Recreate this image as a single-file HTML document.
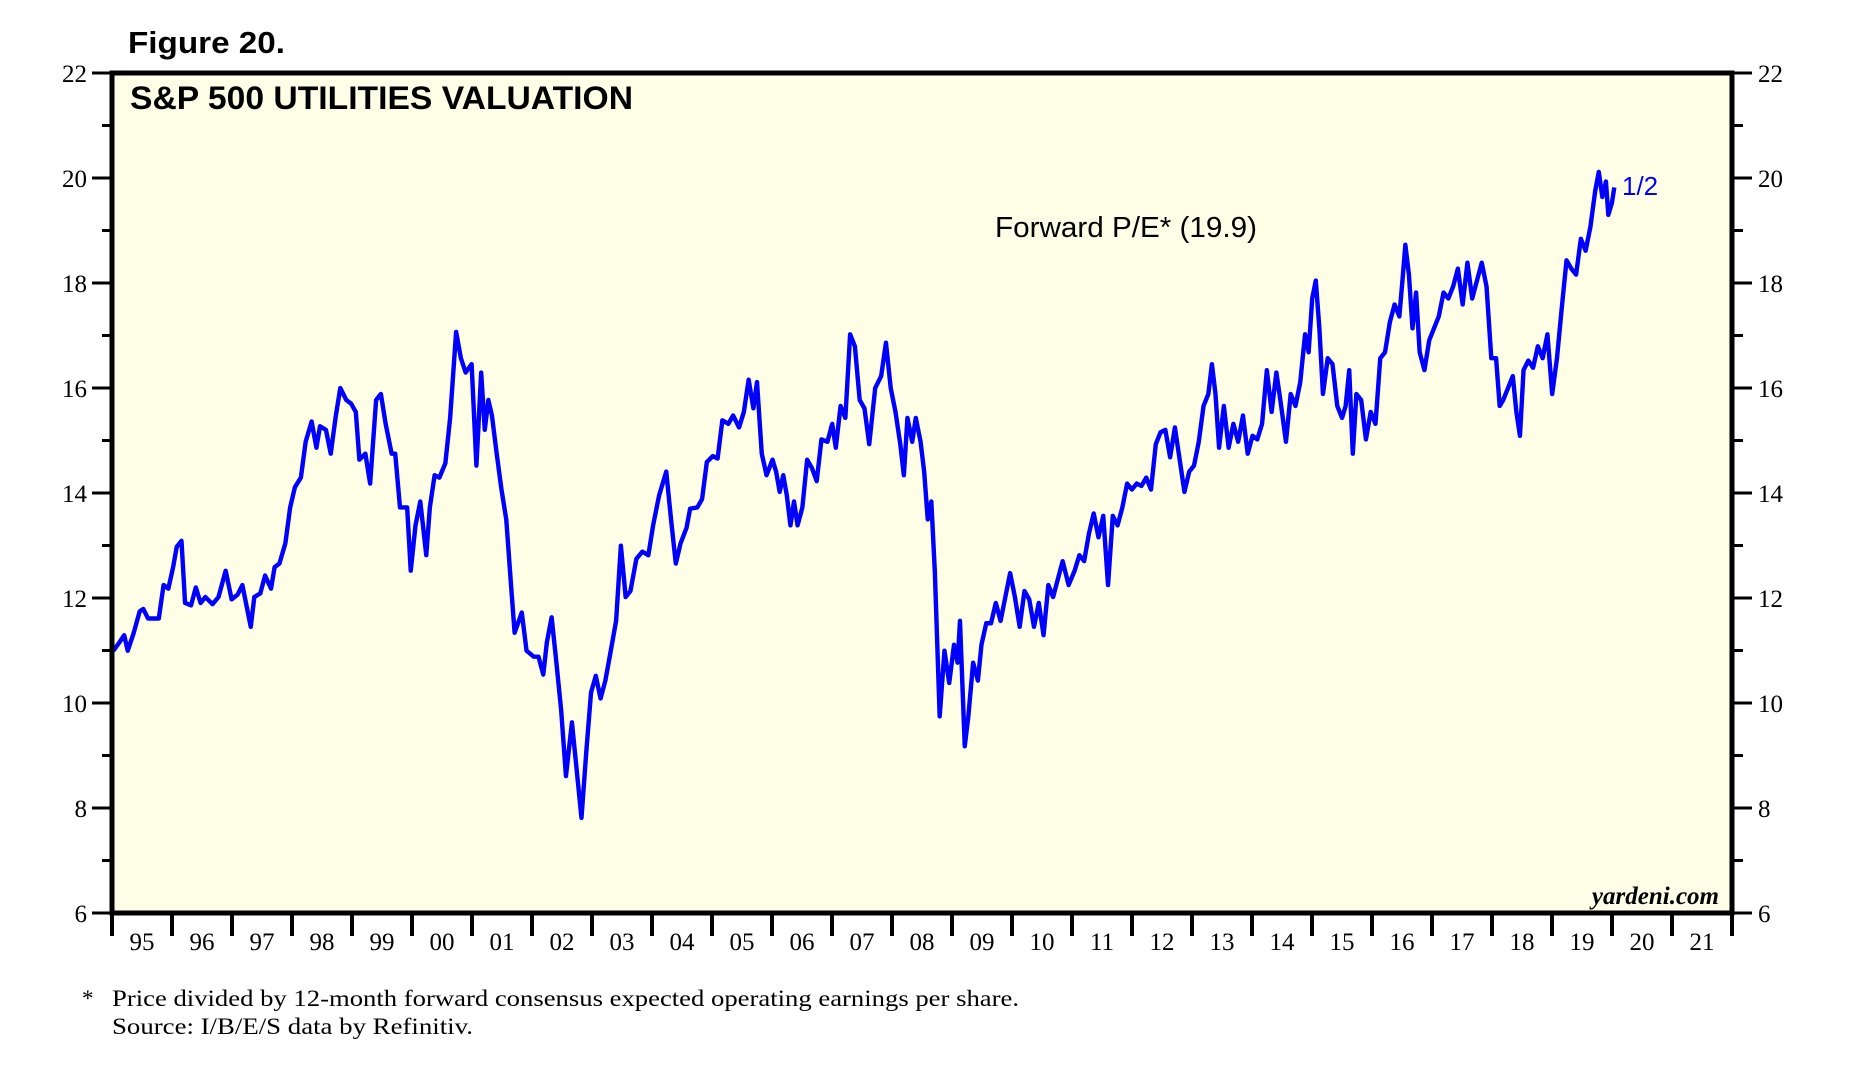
<!DOCTYPE html>
<html><head><meta charset="utf-8"><style>html,body{margin:0;padding:0;background:#fff}svg{display:block}</style></head>
<body>
<svg width="1871" height="1074" viewBox="0 0 1871 1074" xmlns="http://www.w3.org/2000/svg">
<rect x="0" y="0" width="1871" height="1074" fill="#fff"/>
<rect x="112" y="73" width="1620" height="840" fill="#fefee6"/>
<text x="128" y="53" font-family="Liberation Sans, sans-serif" font-weight="bold" font-size="31" textLength="157" lengthAdjust="spacingAndGlyphs">Figure 20.</text>
<text x="130" y="109" font-family="Liberation Sans, sans-serif" font-weight="bold" font-size="32" textLength="503" lengthAdjust="spacingAndGlyphs">S&amp;P 500 UTILITIES VALUATION</text>
<text x="995" y="237" font-family="Liberation Sans, sans-serif" font-size="29" textLength="262" lengthAdjust="spacingAndGlyphs">Forward P/E* (19.9)</text>
<text x="1622" y="195" font-family="Liberation Sans, sans-serif" font-size="26" fill="#0000ff">1/2</text>
<text x="1719" y="904" text-anchor="end" font-family="Liberation Serif, serif" font-weight="bold" font-style="italic" font-size="25">yardeni.com</text>
<g font-family="Liberation Serif, serif" font-size="25">
<g stroke="#000" stroke-width="3">
<line x1="92" y1="73" x2="112" y2="73"/><line x1="92" y1="178" x2="112" y2="178"/><line x1="92" y1="283" x2="112" y2="283"/><line x1="92" y1="388" x2="112" y2="388"/><line x1="92" y1="493" x2="112" y2="493"/><line x1="92" y1="598" x2="112" y2="598"/><line x1="92" y1="703" x2="112" y2="703"/><line x1="92" y1="808" x2="112" y2="808"/><line x1="92" y1="913" x2="112" y2="913"/>
<line x1="102" y1="125.5" x2="112" y2="125.5"/><line x1="102" y1="230.5" x2="112" y2="230.5"/><line x1="102" y1="335.5" x2="112" y2="335.5"/><line x1="102" y1="440.5" x2="112" y2="440.5"/><line x1="102" y1="545.5" x2="112" y2="545.5"/><line x1="102" y1="650.5" x2="112" y2="650.5"/><line x1="102" y1="755.5" x2="112" y2="755.5"/><line x1="102" y1="860.5" x2="112" y2="860.5"/>
<line x1="1732" y1="73" x2="1752" y2="73"/><line x1="1732" y1="178" x2="1752" y2="178"/><line x1="1732" y1="283" x2="1752" y2="283"/><line x1="1732" y1="388" x2="1752" y2="388"/><line x1="1732" y1="493" x2="1752" y2="493"/><line x1="1732" y1="598" x2="1752" y2="598"/><line x1="1732" y1="703" x2="1752" y2="703"/><line x1="1732" y1="808" x2="1752" y2="808"/><line x1="1732" y1="913" x2="1752" y2="913"/>
<line x1="1732" y1="125.5" x2="1743" y2="125.5"/><line x1="1732" y1="230.5" x2="1743" y2="230.5"/><line x1="1732" y1="335.5" x2="1743" y2="335.5"/><line x1="1732" y1="440.5" x2="1743" y2="440.5"/><line x1="1732" y1="545.5" x2="1743" y2="545.5"/><line x1="1732" y1="650.5" x2="1743" y2="650.5"/><line x1="1732" y1="755.5" x2="1743" y2="755.5"/><line x1="1732" y1="860.5" x2="1743" y2="860.5"/>
</g>
<g text-anchor="end">
<text x="87" y="82">22</text><text x="87" y="187">20</text><text x="87" y="292">18</text><text x="87" y="397">16</text><text x="87" y="502">14</text><text x="87" y="607">12</text><text x="87" y="712">10</text><text x="87" y="817">8</text><text x="87" y="922">6</text>
</g>
<g>
<text x="1758" y="82">22</text><text x="1758" y="187">20</text><text x="1758" y="292">18</text><text x="1758" y="397">16</text><text x="1758" y="502">14</text><text x="1758" y="607">12</text><text x="1758" y="712">10</text><text x="1758" y="817">8</text><text x="1758" y="922">6</text>
</g>
</g>
<g stroke="#000" stroke-width="4">
<line x1="112" y1="913" x2="112" y2="936"/><line x1="172" y1="913" x2="172" y2="936"/><line x1="232" y1="913" x2="232" y2="936"/><line x1="292" y1="913" x2="292" y2="936"/><line x1="352" y1="913" x2="352" y2="936"/><line x1="412" y1="913" x2="412" y2="936"/><line x1="472" y1="913" x2="472" y2="936"/><line x1="532" y1="913" x2="532" y2="936"/><line x1="592" y1="913" x2="592" y2="936"/><line x1="652" y1="913" x2="652" y2="936"/><line x1="712" y1="913" x2="712" y2="936"/><line x1="772" y1="913" x2="772" y2="936"/><line x1="832" y1="913" x2="832" y2="936"/><line x1="892" y1="913" x2="892" y2="936"/><line x1="952" y1="913" x2="952" y2="936"/><line x1="1012" y1="913" x2="1012" y2="936"/><line x1="1072" y1="913" x2="1072" y2="936"/><line x1="1132" y1="913" x2="1132" y2="936"/><line x1="1192" y1="913" x2="1192" y2="936"/><line x1="1252" y1="913" x2="1252" y2="936"/><line x1="1312" y1="913" x2="1312" y2="936"/><line x1="1372" y1="913" x2="1372" y2="936"/><line x1="1432" y1="913" x2="1432" y2="936"/><line x1="1492" y1="913" x2="1492" y2="936"/><line x1="1552" y1="913" x2="1552" y2="936"/><line x1="1612" y1="913" x2="1612" y2="936"/><line x1="1672" y1="913" x2="1672" y2="936"/><line x1="1732" y1="913" x2="1732" y2="936"/>
</g>
<g font-family="Liberation Serif, serif" font-size="25" text-anchor="middle">
<text x="142" y="950">95</text><text x="202" y="950">96</text><text x="262" y="950">97</text><text x="322" y="950">98</text><text x="382" y="950">99</text><text x="442" y="950">00</text><text x="502" y="950">01</text><text x="562" y="950">02</text><text x="622" y="950">03</text><text x="682" y="950">04</text><text x="742" y="950">05</text><text x="802" y="950">06</text><text x="862" y="950">07</text><text x="922" y="950">08</text><text x="982" y="950">09</text><text x="1042" y="950">10</text><text x="1102" y="950">11</text><text x="1162" y="950">12</text><text x="1222" y="950">13</text><text x="1282" y="950">14</text><text x="1342" y="950">15</text><text x="1402" y="950">16</text><text x="1462" y="950">17</text><text x="1522" y="950">18</text><text x="1582" y="950">19</text><text x="1642" y="950">20</text><text x="1702" y="950">21</text>
</g>
<g transform="scale(1.194)">
<polyline fill="none" stroke="#0000ff" stroke-width="3.7" stroke-linejoin="round" points="95,545 100,538 104,532 107,545 112,530 117,512 120,510 124,518 130,518 133,518 137,490 141,493 145,475 148,458 152,453 155,505 160,507 164,492 168,505 172,500 178,506 183,500 189,478 194,502 199,498 203,490 206,505 210,525 213,500 218,497 222,482 227,493 230,475 234,472 239,455 243,425 247,408 252,400 256,370 261,353 265,375 268,357 273,360 277,380 281,350 285,325 290,335 294,338 298,345 301,385 306,380 310,405 315,335 319,330 323,355 328,380 331,380 335,425 341,425 344,478 348,440 352,420 357,465 360,425 364,398 368,400 373,388 377,350 382,278 386,300 390,312 395,305 399,390 403,312 406,360 409,335 412,348 416,380 420,410 424,435 428,490 431,530 437,513 441,545 447,550 451,550 455,565 458,538 462,517 466,555 470,595 474,650 479,605 483,645 487,685 491,630 495,580 499,566 503,585 507,570 511,548 516,520 520,457 524,500 528,495 533,468 538,462 543,465 547,440 552,415 558,395 562,435 566,472 570,455 575,442 578,426 584,425 588,418 592,387 597,382 601,384 605,352 610,355 614,348 619,358 623,345 627,318 631,342 634,320 638,380 642,398 647,385 650,395 653,412 656,398 659,415 662,440 665,420 668,440 672,425 676,385 680,392 684,403 688,368 693,370 697,355 700,375 704,340 708,350 712,280 716,290 720,335 724,342 728,372 733,325 738,315 742,287 746,325 750,345 754,372 757,398 760,350 764,370 767,350 771,370 774,395 777,435 780,420 783,480 787,600 791,545 795,572 799,540 802,555 804,520 808,625 811,600 815,555 819,570 822,540 826,522 830,522 834,505 838,520 842,500 846,480 850,500 854,525 858,495 862,502 866,525 870,505 874,532 878,490 882,500 886,485 890,470 895,490 900,478 904,465 908,470 912,447 916,430 920,450 924,432 928,490 932,432 936,440 940,425 944,405 948,410 952,405 956,407 960,400 964,410 968,372 972,362 976,360 980,383 984,358 988,385 992,412 996,395 1000,390 1004,370 1008,340 1012,330 1015,305 1018,330 1021,375 1025,340 1029,375 1033,355 1037,370 1041,348 1045,380 1049,365 1053,368 1057,355 1061,310 1065,345 1069,312 1073,340 1077,370 1081,330 1085,340 1089,320 1093,280 1096,295 1099,250 1102,235 1105,275 1108,330 1112,300 1116,305 1120,340 1124,350 1127,340 1130,310 1133,380 1136,330 1140,335 1144,368 1148,345 1152,355 1156,300 1160,295 1164,270 1168,255 1172,265 1175,230 1177,205 1180,230 1183,275 1186,245 1189,295 1193,310 1197,285 1201,275 1205,265 1209,245 1213,250 1217,240 1221,225 1225,255 1229,220 1233,250 1237,235 1241,220 1245,240 1249,300 1253,300 1256,340 1259,335 1263,325 1267,315 1270,345 1273,365 1276,310 1280,302 1284,308 1288,290 1292,300 1296,280 1300,330 1304,300 1308,258 1312,218 1316,225 1320,230 1324,200 1328,210 1332,190 1336,160 1339,144 1342,165 1345,152 1347,180 1350,170 1352,157"/>
</g>
<rect x="112" y="73" width="1620" height="840" fill="none" stroke="#000" stroke-width="5"/>
<g font-family="Liberation Serif, serif" font-size="23">
<text x="82" y="1006">*</text>
<text x="112" y="1006" textLength="907" lengthAdjust="spacingAndGlyphs">Price divided by 12-month forward consensus expected operating earnings per share.</text>
<text x="112" y="1034" textLength="361" lengthAdjust="spacingAndGlyphs">Source: I/B/E/S data by Refinitiv.</text>
</g>
</svg>
</body></html>
